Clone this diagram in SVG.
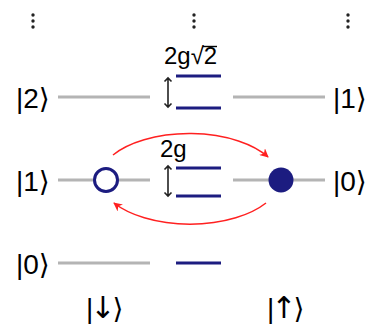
<svg xmlns="http://www.w3.org/2000/svg" width="370" height="329" viewBox="0 0 370 329">
<style>
.lbl{font-family:"Liberation Sans","DejaVu Sans",sans-serif;font-size:28px;fill:#000}
.spin{letter-spacing:-3px}
.arr{font-family:"DejaVu Sans",sans-serif;font-size:30px}
.gap{font-family:"Liberation Sans",sans-serif;font-size:24px;fill:#000}
.gray{stroke:#b4b4b4;stroke-width:3;fill:none}
.blue{stroke:#1c1c80;stroke-width:3;fill:none}
.dbl{stroke:#222;stroke-width:1.6;fill:none}
.red{stroke:#ff2020;stroke-width:1.5;fill:none}
.dot{fill:#222}
</style>
<defs>
<marker id="ra" viewBox="0 0 10 10" refX="9" refY="5" markerWidth="9" markerHeight="9" markerUnits="userSpaceOnUse" orient="auto">
<path d="M0,0 L10,5 L0,10 L3,5 z" fill="#ff2020"/>
</marker>
</defs>
<g id="ellipses">
<circle class="dot" cx="33" cy="15" r="1.7"/><circle class="dot" cx="33" cy="21" r="1.7"/><circle class="dot" cx="33" cy="27" r="1.7"/>
<circle class="dot" cx="194" cy="15" r="1.7"/><circle class="dot" cx="194" cy="21" r="1.7"/><circle class="dot" cx="194" cy="27" r="1.7"/>
<circle class="dot" cx="348" cy="15" r="1.7"/><circle class="dot" cx="348" cy="21" r="1.7"/><circle class="dot" cx="348" cy="27" r="1.7"/>
</g>
<g id="row2">
<text class="lbl" x="16" y="108">|2⟩</text>
<line class="gray" x1="58" y1="97" x2="150" y2="97"/>
<line class="gray" x1="233" y1="97" x2="325" y2="97"/>
<text class="lbl" x="333" y="108">|1⟩</text>
<line class="blue" x1="176" y1="76" x2="221" y2="76"/>
<line class="blue" x1="176" y1="108" x2="221" y2="108"/>
<path class="dbl" d="M168,78 V107 M164.5,81.5 L168,78 L171.5,81.5 M164.5,103.5 L168,107 L171.5,103.5"/>
<text class="gap" x="164" y="64">2g√2</text>
<line x1="203" y1="46.5" x2="217" y2="46.5" stroke="#000" stroke-width="1.4"/>
</g>
<g id="row1">
<text class="lbl" x="16" y="191">|1⟩</text>
<line class="gray" x1="58" y1="180" x2="150" y2="180"/>
<line class="gray" x1="233" y1="180" x2="325" y2="180"/>
<text class="lbl" x="333" y="191">|0⟩</text>
<line class="blue" x1="176" y1="168" x2="221" y2="168"/>
<line class="blue" x1="176" y1="196" x2="221" y2="196"/>
<path class="dbl" d="M168,166 V196 M164.5,169.5 L168,166 L171.5,169.5 M164.5,192.5 L168,196 L171.5,192.5"/>
<text class="gap" x="160" y="157">2g</text>
</g>
<g id="atom-ground">
<circle cx="106" cy="180" r="11.5" fill="#fff" stroke="#1c1c80" stroke-width="3"/>
</g>
<g id="atom-excited">
<circle cx="281" cy="180" r="12.5" fill="#1c1c80"/>
</g>
<g id="row0">
<text class="lbl" x="16" y="274">|0⟩</text>
<line class="gray" x1="58" y1="263" x2="150" y2="263"/>
<line class="blue" x1="176" y1="263" x2="221" y2="263"/>
</g>
<g id="spin-labels">
<text class="lbl spin" x="86" y="318">|<tspan class="arr">↓</tspan>⟩</text>
<text class="lbl spin" x="267" y="318">|<tspan class="arr">↑</tspan>⟩</text>
</g>
<g id="connectors">
<path class="red" d="M113,155 A91,47 0 0 1 268,157" marker-end="url(#ra)"/>
<path class="red" d="M266,203 A91,47 0 0 1 114,203" marker-end="url(#ra)"/>
</g>
</svg>
